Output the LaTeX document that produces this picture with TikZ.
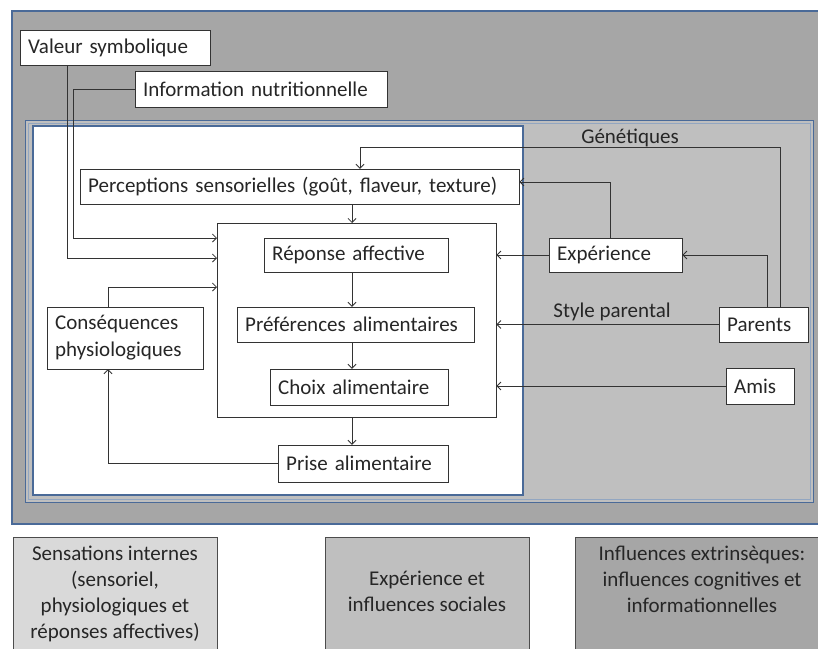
\documentclass[tikz,border=0pt]{standalone}
\usepackage{fontspec}
\setmainfont{Carlito}
\usetikzlibrary{arrows.meta}
\definecolor{cadrebleu}{HTML}{4A6A98}
\definecolor{grisfonce}{HTML}{A6A6A6}
\definecolor{grismoyen}{HTML}{BFBFBF}
\definecolor{grisclair}{HTML}{D9D9D9}
\tikzset{
	boite/.style={draw=black!80, fill=white, anchor=west, align=left, inner xsep=8pt, inner ysep=0pt, text=black!85, font=\fontsize{21}{27}\selectfont},
	fleche/.style={draw=black!80, line width=0.8pt, -{Straight Barb[length=4pt,width=8pt]}},
	legende/.style={draw=black!70, anchor=north west, inner sep=0pt},
	texte/.style={text=black!85, align=center, font=\fontsize{21}{26}\selectfont}
}

\begin{document}
\begin{tikzpicture}[x=1pt, y=-1pt]
			%%%%% START %%%%%
			\path[use as bounding box, clip] (0, 0) rectangle (818, 648);
			
			% cadres de fond
			\draw[fill=grisfonce, draw=cadrebleu, line width=1.5pt] (12, 11) rectangle (830, 524);
			\draw[fill=grismoyen, draw=cadrebleu, line width=1pt] (25, 120) rectangle (813, 502);
			\draw[draw=cadrebleu!60, line width=1pt] (28, 123) rectangle (810, 499);
			\draw[fill=white, draw=cadrebleu, line width=2pt] (33, 126) rectangle (523, 495);
			
			\node[draw=black!80, fill=white, minimum width=279pt, minimum height=194pt, inner sep=0pt, anchor=north west] (centre) at (217, 223) {};
			
			% boites
			\node[boite, text width=174pt, minimum height=35pt] (valeur) at (20, 47.5) {Valeur symbolique};
			\node[boite, text width=236pt, minimum height=36pt] (info) at (135, 89) {Information nutritionnelle};
			\node[boite, text width=423pt, minimum height=35pt] (percep) at (80, 186.5) {Perceptions sensorielles (goût, flaveur, texture)};
			\node[boite, text width=168pt, minimum height=34pt] (reponse) at (264, 255) {Réponse affective};
			\node[boite, text width=221pt, minimum height=35pt] (pref) at (237, 324.5) {Préférences alimentaires};
			\node[boite, text width=162pt, minimum height=36pt] (choix) at (270, 387) {Choix alimentaire};
			\node[boite, text width=154pt, minimum height=37pt] (prise) at (278, 463.5) {Prise alimentaire};
			\node[boite, text width=140pt, minimum height=62pt] (conseq) at (47, 338) {Conséquences\\physiologiques};
			\node[boite, text width=117pt, minimum height=34pt] (experience) at (549, 255) {Expérience};
			\node[boite, text width=73pt, minimum height=35pt] (parents) at (719, 324.5) {Parents};
			\node[boite, text width=52pt, minimum height=36pt] (amis) at (726, 386) {Amis};
			
			\node[texte] (genetiques) at (630, 138) {Génétiques};
			\node[texte] (style) at (612, 312) {Style parental};
			
			% fleches
			\draw[fleche] (valeur.south -| 67, 0) |- (centre.west |- 0, 258);
			\draw[fleche] (info.west) -| (73, 238) -- (centre.west |- 0, 238);
			\draw[fleche] (conseq.north -| 108, 0) |- (centre.west |- 0, 287);
			\draw[fleche] (prise.west) -| (conseq.south -| 108, 0);
			\draw[fleche] (percep.south -| 352, 0) -- (centre.north -| 352, 0);
			\draw[fleche] (reponse.south -| 352, 0) -- (pref.north -| 352, 0);
			\draw[fleche] (pref.south -| 352, 0) -- (choix.north -| 352, 0);
			\draw[fleche] (centre.south -| 352, 0) -- (prise.north -| 352, 0);
			\draw[fleche] (parents.north -| 780, 0) -- (780, 147) -| (percep.north -| 360, 0);
			\draw[fleche] (experience.north -| 610, 0) |- (percep.east |- 0, 182);
			\draw[fleche] (experience.west) -- (centre.east |- experience.west);
			\draw[fleche] (parents.north -| 767, 0) |- (experience.east);
			\draw[fleche] (parents.west) -- (centre.east |- parents.west);
			\draw[fleche] (amis.west) -- (centre.east |- amis.west);
			
			% legende
			\node[legende, fill=grisclair, minimum width=204pt, minimum height=130pt] (leg1) at (13, 537) {};
			\node[legende, fill=grismoyen, minimum width=204pt, minimum height=130pt] (leg2) at (325, 537) {};
			\node[legende, fill=grisfonce, minimum width=255pt, minimum height=130pt] (leg3) at (575, 537) {};
			\node[texte, anchor=north] (txt1) at (115, 542) {Sensations internes\\(sensoriel,\\physiologiques et\\réponses affectives)};
			\node[texte, anchor=north] (txt2) at (427, 568) {Expérience et\\influences sociales};
			\node[texte, anchor=north] (txt3) at (702, 542) {Influences extrinsèques:\\influences cognitives et\\informationnelles};
			
			%%%%% END %%%%%
\end{tikzpicture}
\end{document}
